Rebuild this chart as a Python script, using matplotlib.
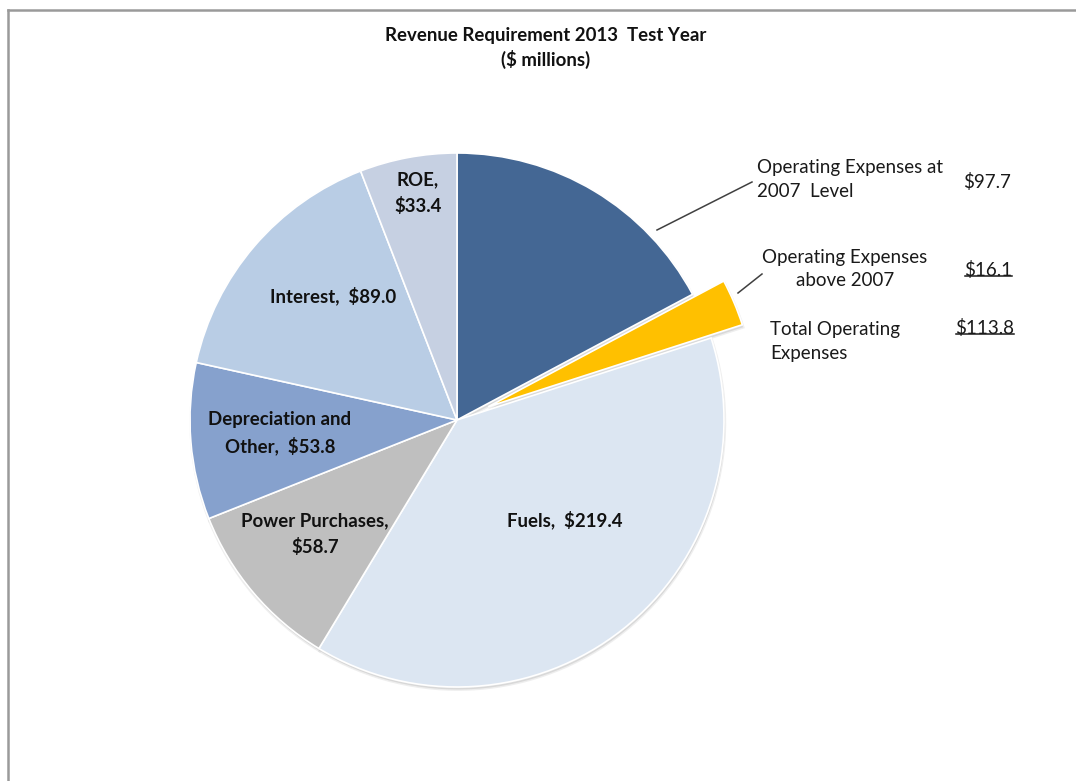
import matplotlib
matplotlib.use("Agg")
import matplotlib.pyplot as plt
from matplotlib.lines import Line2D

# Revenue requirement components, $ millions (clockwise from 12 o'clock)
categories = ["Operating Expenses at 2007 Level", "Operating Expenses above 2007",
              "Fuels", "Power Purchases", "Depreciation and Other", "Interest", "ROE"]
values = [97.7, 16.1, 219.4, 58.7, 53.8, 89.0, 33.4]
colors = ["#446794", "#FFC000", "#DCE6F2", "#BFBFBF", "#86A1CD", "#B9CDE5", "#C6D0E2"]
explode_frac = [0, 0.127, 0, 0, 0, 0, 0]

# In-slice labels: (text, x, y) in pixel coordinates from the top-left corner
slice_labels = [
    ("ROE,\n$33.4", 418, 193),
    ("Interest,  $89.0", 333, 296),
    ("Depreciation and\nOther,  $53.8", 280, 433),
    ("Power Purchases,\n$58.7", 315, 534),
    ("Fuels,  $219.4", 565, 520),
]

W, H = 1076, 781
CX, CY, R = 457, 420, 267

fig = plt.figure(figsize=(W / 100, H / 100), dpi=100)
ax = fig.add_axes([0, 0, 1, 1])

def yy(y):
    return H - y

FONT = "Lato"
explode = [f * R for f in explode_frac]

# soft drop shadow under the pie
ax.pie(values, startangle=90, counterclock=False, explode=explode,
       radius=R, center=(CX + 0.8, yy(CY) - 2.5),
       colors=["#9a9a9a"] * len(values),
       wedgeprops=dict(linewidth=2.0, edgecolor="#c8c8c8", alpha=0.3))

wedges, _ = ax.pie(values, startangle=90, counterclock=False, explode=explode,
                   radius=R, center=(CX, yy(CY)), colors=colors,
                   wedgeprops=dict(linewidth=1.2, edgecolor="white"))

ax.set_xlim(0, W)
ax.set_ylim(0, H)
ax.set_aspect("equal")
ax.axis("off")

# title
ax.text(546, yy(48), "Revenue Requirement 2013  Test Year\n($ millions)",
        ha="center", va="center", fontsize=13.4, fontweight="bold",
        family=FONT, color="#111111", linespacing=1.35)

for txt, x, y in slice_labels:
    ax.text(x, yy(y), txt, ha="center", va="center", fontsize=13.4,
            fontweight="bold", family=FONT, color="#111111", linespacing=1.55)

# operating expense breakdown on the right
txt_kw = dict(fontsize=13.5, family=FONT, color="#1a1a1a", linespacing=1.5)
ax.text(757, yy(179.5), "Operating Expenses at\n2007  Level", ha="left", va="center", **txt_kw)
ax.text(845, yy(269), "Operating Expenses\nabove 2007", ha="center", va="center", multialignment="center", **txt_kw)
ax.text(770, yy(341), "Total Operating\nExpenses", ha="left", va="center", **txt_kw)

v_total = values[0] + values[1]
amounts = [
    (f"${values[0]:.1f}", 1011, 182, False),
    (f"${values[1]:.1f}", 1012, 270, True),
    (f"${v_total:.1f}", 1014, 328, True),
]
amount_texts = []
for s, x, y, ul in amounts:
    t = ax.text(x, yy(y), s, ha="right", va="center", **txt_kw)
    amount_texts.append((t, ul))

# leader lines from the callouts to their slices
ax.add_line(Line2D([657, 752], [yy(230), yy(182)], color="#404040", lw=1.1))
ax.add_line(Line2D([738, 762], [yy(293), yy(274)], color="#404040", lw=1.1))

# underline the amounts that are summed
fig.canvas.draw()
renderer = fig.canvas.get_renderer()
for t, ul in amount_texts:
    if ul:
        bb = t.get_window_extent(renderer)
        ax.add_line(Line2D([bb.x0 + 1, bb.x1], [bb.y0 + 3.5, bb.y0 + 3.5],
                           color="#1a1a1a", lw=1.1))

# chart area border (top and left edges)
ax.add_line(Line2D([7.5, W], [yy(9.5), yy(9.5)], color="#9a9a9a", lw=1.8))
ax.add_line(Line2D([7.5, 7.5], [0, yy(9.5)], color="#9a9a9a", lw=1.8))

fig.savefig("out.png", dpi=100)
